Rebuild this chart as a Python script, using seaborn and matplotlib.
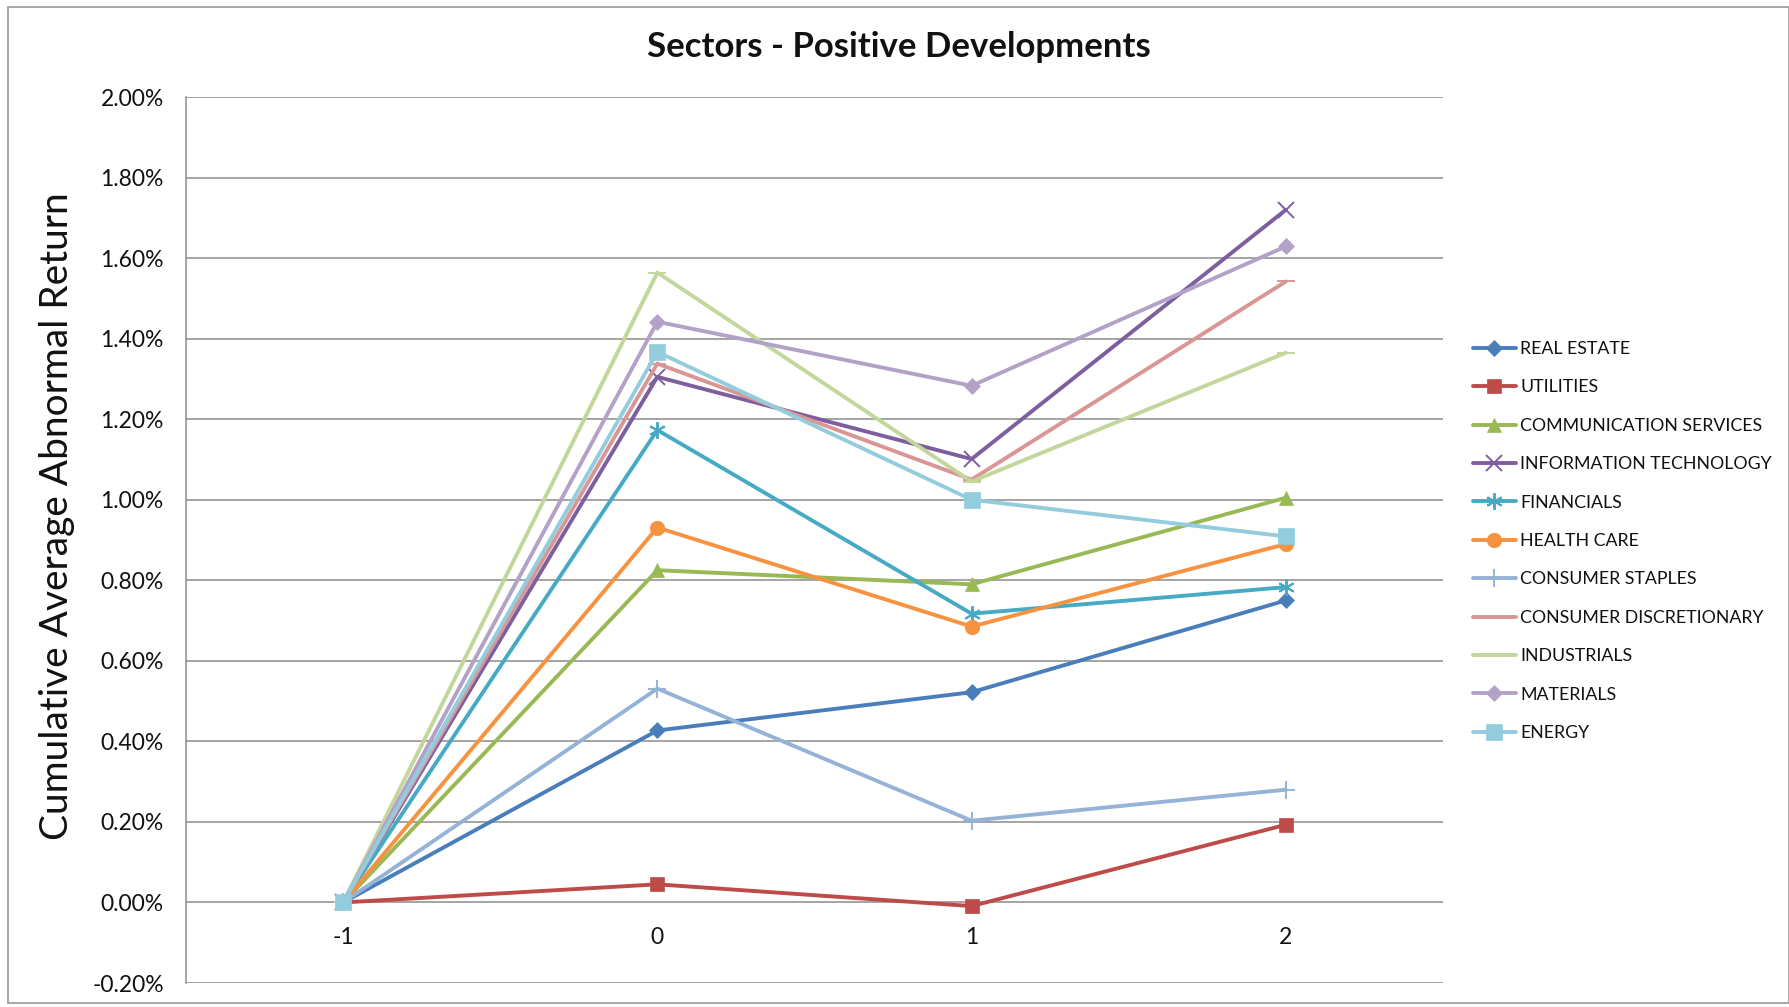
import matplotlib
matplotlib.use("Agg")
import matplotlib.pyplot as plt
from matplotlib.patches import Rectangle
from matplotlib.ticker import FuncFormatter
import seaborn as sns
import pandas as pd

sns.set_theme(style="white")
plt.rcParams["font.family"] = ["Lato", "DejaVu Sans"]

# Event days
days = [-1, 0, 1, 2]

# Cumulative average abnormal return (%) per sector
real_estate = [0.0, 0.427, 0.522, 0.750]
utilities = [0.0, 0.045, -0.009, 0.193]
communication_services = [0.0, 0.825, 0.790, 1.005]
information_technology = [0.0, 1.305, 1.101, 1.720]
financials = [0.0, 1.173, 0.717, 0.783]
health_care = [0.0, 0.931, 0.685, 0.890]
consumer_staples = [0.0, 0.531, 0.203, 0.280]
consumer_discretionary = [0.0, 1.338, 1.050, 1.542]
industrials = [0.0, 1.564, 1.045, 1.365]
materials = [0.0, 1.442, 1.283, 1.629]
energy = [0.0, 1.367, 1.000, 0.909]

sectors = [
    "REAL ESTATE", "UTILITIES", "COMMUNICATION SERVICES", "INFORMATION TECHNOLOGY",
    "FINANCIALS", "HEALTH CARE", "CONSUMER STAPLES", "CONSUMER DISCRETIONARY",
    "INDUSTRIALS", "MATERIALS", "ENERGY",
]
values = [
    real_estate, utilities, communication_services, information_technology,
    financials, health_care, consumer_staples, consumer_discretionary,
    industrials, materials, energy,
]

colors = [
    "#4A7EBB", "#BE4B48", "#98B954", "#7D5FA0", "#46AAC5", "#F69240",
    "#95B3D7", "#D99694", "#C3D69B", "#B3A2C7", "#93CDDD",
]
markers = ["D", "s", "^", "x", (6, 2, 0), "o", "+", "_", "_", "D", "s"]
msizes = [8.5, 10, 10.5, 12, 12, 10.5, 13, 13, 13, 8.5, 11]

rows = []
for name, vals in zip(sectors, values):
    for d, v in zip(days, vals):
        rows.append({"Day": d, "CAAR": v, "Sector": name})
df = pd.DataFrame(rows)

fig = plt.figure(figsize=(17.89, 10.07), dpi=100)
ax = fig.add_axes([186 / 1789, 1 - 983 / 1007, (1443 - 186) / 1789, (983 - 97) / 1007])

for name, col, mk, ms in zip(sectors, colors, markers, msizes):
    sub = df[df["Sector"] == name]
    filled = mk not in ("x", "+", "_") and not isinstance(mk, tuple)
    sns.lineplot(
        data=sub, x="Day", y="CAAR", ax=ax, color=col, linewidth=2.8,
        marker=mk, markersize=ms, label=name,
        markeredgewidth=(0.5 if filled else 1.4),
        markeredgecolor=col, markerfacecolor=col, estimator=None,
    )

ax.set_xlim(-1.5, 2.5)
ax.set_ylim(-0.2, 2.0)
ax.set_yticks([-0.2, 0.0, 0.2, 0.4, 0.6, 0.8, 1.0, 1.2, 1.4, 1.6, 1.8, 2.0])
ax.set_xticks(days)
ax.set_xticklabels([str(d) for d in days])
ax.yaxis.set_major_formatter(FuncFormatter(lambda v, _: f"{v:.2f}%"))
ax.grid(axis="y", color="#8C8C8C", linewidth=1.1)
ax.set_axisbelow(True)

for s in ("top", "right"):
    ax.spines[s].set_visible(False)
ax.spines["left"].set_color("#8C8C8C")
ax.spines["left"].set_linewidth(1.1)
ax.spines["bottom"].set_position(("data", 0))
ax.spines["bottom"].set_visible(False)

ax.tick_params(axis="y", length=0, pad=16, labelsize=16.5, labelcolor="#111111")
ax.tick_params(axis="x", length=0, pad=17.5, labelsize=16.5, labelcolor="#111111")
ax.set_xlabel("")
ax.set_ylabel("")

fig.text(57 / 1789, 1 - 516 / 1007, "Cumulative Average Abnormal Return",
         rotation=90, ha="center", va="center", fontsize=28, color="#111111")
fig.text(899 / 1789, 1 - 47 / 1007, "Sectors - Positive Developments",
         ha="center", va="center", fontsize=25, fontweight="bold", color="#111111")

handles, labels = ax.get_legend_handles_labels()
ax.get_legend().remove()
leg = fig.legend(
    handles, labels, loc="center left", bbox_to_anchor=(1466 / 1789, 1 - 541 / 1007),
    frameon=False, fontsize=12.8, handlelength=2.4, handletextpad=0.25,
    labelspacing=1.26, borderaxespad=0,
)
for t in leg.get_texts():
    t.set_color("#111111")

# Chart frame
fig.patches.append(Rectangle((8 / 1789, 4 / 1007), 1 - 8 / 1789, 1 - 11 / 1007,
                             transform=fig.transFigure, fill=False,
                             edgecolor="#9A9A9A", linewidth=1.2))

fig.savefig("out.png", dpi=100)
